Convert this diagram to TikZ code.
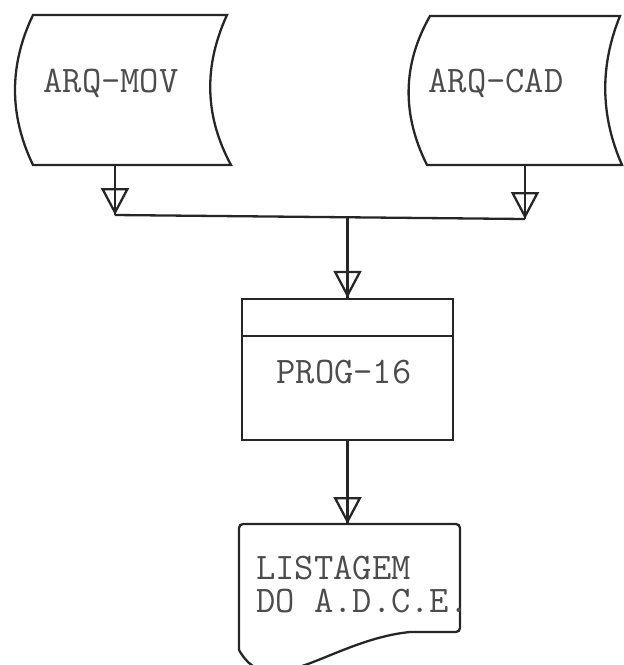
\documentclass[tikz,border=0pt]{standalone}
\usepackage{tikz}
\usetikzlibrary{arrows.meta}

\begin{document}
\begin{tikzpicture}[x=1pt,y=-1pt,line width=2.3pt,color=black!85,
  txt/.style={font=\fontsize{37.5}{33}\selectfont\ttfamily,text=black!70,inner sep=0pt},
  flow/.style={-{Triangle[open,length=27pt,width=28pt]},postaction={draw,-}}]
\useasboundingbox (0,0) rectangle (624,665);
\draw (33,15) -- (227,15) .. controls (204,65) and (204,115) .. (231,165) -- (33,165) .. controls (9,115) and (9,65) .. cycle;
\draw (430,16) -- (620,16) .. controls (600,65) and (600,115) .. (622,165) -- (427,165) .. controls (402,115) and (402,65) .. cycle;
\node at (111,92) [txt,anchor=base] (ArqMov) {ARQ-MOV};
\node at (496,92) [txt,anchor=base] (ArqCad) {ARQ-CAD};
\node at (347.5,369.5) [rectangle,draw,minimum width=211pt,minimum height=141pt] (Prog) {};
\draw ([yshift=-38pt]Prog.north west) -- ([yshift=-38pt]Prog.north east);
\node at (344,383) [txt,anchor=base] (ProgTxt) {PROG-16};
\draw[rounded corners=4pt] (239,650) -- (239,524) -- (460,524) -- (460,632) [sharp corners] -- (410,632) .. controls (330,640) and (270,705) .. (239,650);
\node at (255,555) [txt,anchor=north west,align=left] (Lista) {LISTAGEM\\DO A.D.C.E.};
\coordinate (MovB) at (115,165);
\coordinate (MovJ) at (115,215);
\coordinate (CadB) at (525,165);
\coordinate (CadJ) at (525,219);
\coordinate (MidJ) at (347.5,217);
\coordinate (ListaT) at (347.5,524);
\draw[flow] (MovB) -- (MovJ);
\draw[flow] (CadB) -- (CadJ);
\draw (MovJ) -- (CadJ);
\draw[flow] (MidJ) -- (Prog.north);
\draw[flow] (Prog.south) -- (ListaT);
\end{tikzpicture}
\end{document}
